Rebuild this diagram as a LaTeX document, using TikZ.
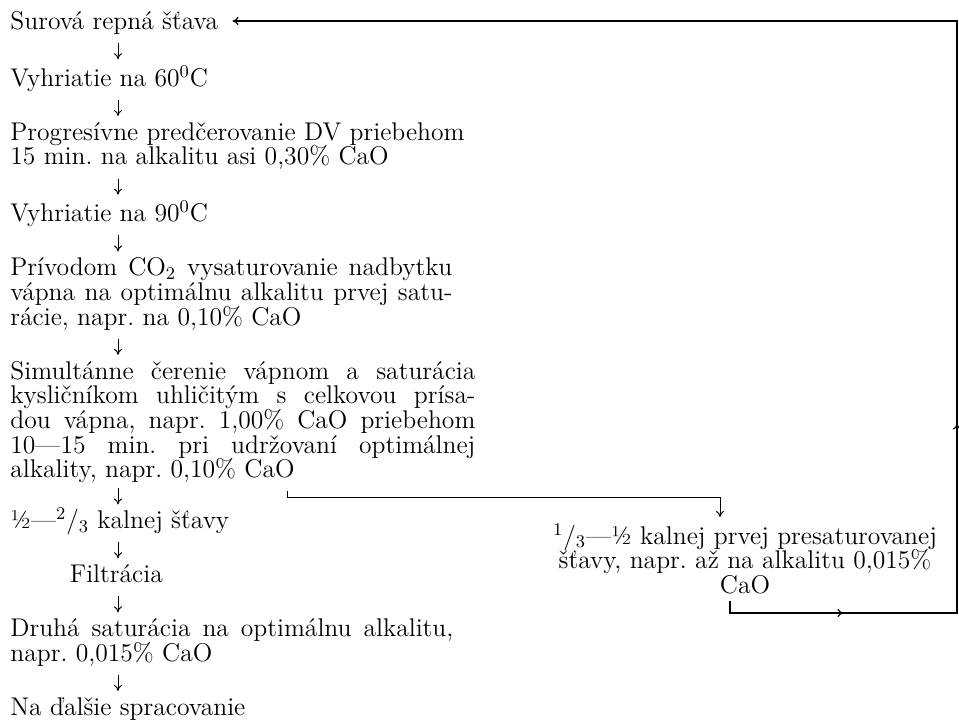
\documentclass[tikz,border=0pt]{standalone}
\usepackage{tikz}
\usetikzlibrary{arrows.meta,positioning,calc}

% one justified line of a paragraph
\newcommand{\fillline}[2]{\makebox[#1][s]{#2}}
\newcommand{\stagefont}{\fontsize{12.8}{12.3}\selectfont\lineskiplimit=-20pt\relax}

\tikzset{
  stage/.style={inner sep=0pt, align=left, anchor=north west,
    execute at begin node=\strut, execute at end node=\strut},
  flow/.style={-{To[length=3pt,width=4pt]}, line width=0.5pt, shorten <=3pt, shorten >=3pt},
  loopline/.style={line width=0.6pt},
}

\begin{document}
\frenchspacing
\begin{tikzpicture}[x=0.5pt, y=-0.5pt, font=\stagefont, node distance=14pt]
  \useasboundingbox (0,0) rectangle (959,721);
  \coordinate (axis) at (118,0);

  \node[stage] (raw) at (10,11) {Surová repná šťava};
  \node[stage, below=of raw.south west, anchor=north west] (heat60) {Vyhriatie na 60\textsuperscript{0}C};
  \node[stage, below=of heat60.south west, anchor=north west] (prog) {Progresívne predčerovanie DV priebehom\\15 min. na alkalitu asi 0,30\% CaO};
  \node[stage, below=of prog.south west, anchor=north west] (heat90) {Vyhriatie na 90\textsuperscript{0}C};
  \node[stage, below=of heat90.south west, anchor=north west] (priv) {\fillline{221pt}{Prívodom CO\textsubscript{2} vysaturovanie nadbytku}\\
    \fillline{221pt}{vápna na optimálnu alkalitu prvej satu-}\\rácie, napr. na 0,10\% CaO};
  \node[stage, below=of priv.south west, anchor=north west] (simul) {\fillline{232.5pt}{Simultánne čerenie vápnom a saturácia}\\
    \fillline{232.5pt}{kysličníkom uhličitým s celkovou prísa-}\\
    \fillline{232.5pt}{dou vápna, napr. 1,00\% CaO priebehom}\\
    \fillline{232.5pt}{10—15 min. pri udržovaní optimálnej}\\alkality, napr. 0,10\% CaO};
  \node[stage, below=11pt of simul.south west, anchor=north west] (half) {½—\textsuperscript{2}/\textsubscript{3} kalnej šťavy};
  \node[stage, minimum width=106pt, below=of half.south west, anchor=north west] (filt) {Filtrácia};
  \node[stage, below=of filt.south west, anchor=north west] (druha) {\fillline{221.5pt}{Druhá saturácia na optimálnu alkalitu,}\\napr. 0,015\% CaO};
  \node[stage, below=of druha.south west, anchor=north west] (further) {Na ďalšie spracovanie};

  \node[stage, align=center, anchor=north] (part) at (745,523) {\textsuperscript{1}/\textsubscript{3}—½ kalnej prvej presaturovanej\\šťavy, napr. až na alkalitu 0,015\%\\CaO};

  \draw[flow] (raw.south -| axis) -- (heat60.north -| axis);
  \draw[flow] (heat60.south -| axis) -- (prog.north -| axis);
  \draw[flow] (prog.south -| axis) -- (heat90.north -| axis);
  \draw[flow] (heat90.south -| axis) -- (priv.north -| axis);
  \draw[flow] (priv.south -| axis) -- (simul.north -| axis);
  \draw[flow, shorten <=1.5pt, shorten >=1.5pt] (simul.south -| axis) -- (half.north -| axis);
  \draw[flow] (half.south -| axis) -- (filt.north -| axis);
  \draw[flow] (filt.south -| axis) -- (druha.north -| axis);
  \draw[flow] (druha.south -| axis) -- (further.north -| axis);

  % branch to the second part
  \coordinate (fork) at (287,0);
  \coordinate (split) at (720,498);
  \draw[flow, shorten <=3pt] (simul.south -| fork) |- (split) -- (split |- part.north);

  % return loop
  \coordinate (back) at (730,613);
  \coordinate (se) at (957,613);
  \coordinate (ne) at (957,21);
  \draw[loopline, -{To[length=3pt,width=4pt]}, shorten >=7pt] (part.south -| back) -- (back) -- (se) -- (ne) -- (raw.east |- ne);
  \draw[loopline, -{To[length=3pt,width=4pt]}] (back) -- ($(back)!.5!(se)$);
  \draw[loopline, -{To[length=3pt,width=4pt]}] (se) -- ($(se)!.32!(ne)$);
\end{tikzpicture}
\end{document}
